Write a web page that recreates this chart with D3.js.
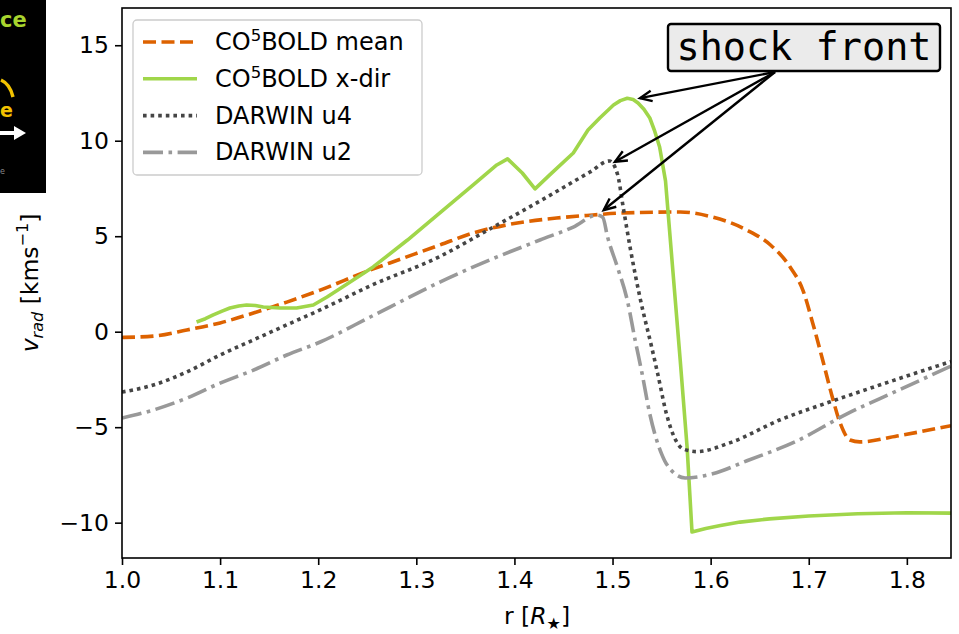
<!DOCTYPE html>
<html>
<head>
<meta charset="utf-8">
<script src="https://cdn.jsdelivr.net/npm/d3@7"></script>
<style>
  html, body { margin: 0; padding: 0; background: #fff; }
  svg { display: block; font-family: "DejaVu Sans", sans-serif; }
</style>
</head>
<body>
<svg id="chart" width="959" height="634"></svg>
<script>
// Radial velocity profiles v_rad(r)
const meanR = [1.000, 1.032, 1.066, 1.100, 1.134, 1.168, 1.202, 1.253, 1.273, 1.324, 1.358, 1.392, 1.443, 1.480, 1.508, 1.569, 1.602, 1.637, 1.661, 1.681, 1.694, 1.704, 1.715, 1.724, 1.732, 1.742, 1.752, 1.790, 1.845];
const meanV = [-0.30, -0.23, 0.09, 0.46, 0.98, 1.55, 2.18, 3.23, 3.60, 4.54, 5.17, 5.59, 5.95, 6.11, 6.21, 6.27, 6.00, 5.32, 4.54, 3.39, 2.18, 0.46, -1.64, -3.42, -4.78, -5.67, -5.77, -5.46, -4.92];

const xdirR = [1.076, 1.085, 1.093, 1.102, 1.110, 1.119, 1.127, 1.136, 1.144, 1.161, 1.178, 1.195, 1.209, 1.222, 1.256, 1.291, 1.324, 1.358, 1.382, 1.393, 1.408, 1.421, 1.436, 1.460, 1.475, 1.487, 1.501, 1.508, 1.515, 1.521, 1.526, 1.532, 1.538, 1.543, 1.548, 1.554, 1.561, 1.569, 1.576, 1.581, 1.595, 1.610, 1.630, 1.660, 1.700, 1.750, 1.800, 1.845];
const xdirV = [0.51, 0.68, 0.88, 1.08, 1.24, 1.35, 1.40, 1.37, 1.29, 1.24, 1.24, 1.40, 1.82, 2.25, 3.39, 4.80, 6.22, 7.69, 8.73, 9.05, 8.31, 7.48, 8.21, 9.36, 10.56, 11.19, 11.87, 12.10, 12.22, 12.16, 11.98, 11.65, 11.19, 10.50, 9.67, 7.90, 3.50, -1.50, -6.04, -10.49, -10.30, -10.15, -9.97, -9.80, -9.65, -9.53, -9.48, -9.50];

const u4R = [1.000, 1.032, 1.066, 1.100, 1.134, 1.168, 1.202, 1.253, 1.324, 1.375, 1.426, 1.477, 1.497, 1.505, 1.511, 1.518, 1.528, 1.540, 1.546, 1.555, 1.572, 1.586, 1.620, 1.671, 1.722, 1.773, 1.845];
const u4V = [-3.16, -2.79, -2.11, -1.22, -0.43, 0.36, 1.14, 2.40, 3.94, 5.38, 6.84, 8.36, 8.94, 8.26, 6.48, 4.39, 1.78, -0.83, -2.19, -4.31, -6.14, -6.28, -5.81, -4.61, -3.67, -2.78, -1.56];

const u2R = [1.000, 1.032, 1.066, 1.100, 1.134, 1.168, 1.202, 1.253, 1.273, 1.324, 1.375, 1.426, 1.460, 1.484, 1.490, 1.495, 1.505, 1.515, 1.523, 1.530, 1.538, 1.550, 1.555, 1.574, 1.602, 1.637, 1.688, 1.739, 1.790, 1.845];
const u2V = [-4.52, -4.10, -3.48, -2.69, -2.01, -1.22, -0.54, 0.77, 1.29, 2.60, 3.76, 4.80, 5.48, 6.10, 5.99, 4.95, 3.38, 1.66, -0.43, -2.16, -4.31, -6.40, -6.93, -7.66, -7.44, -6.76, -5.72, -4.30, -3.10, -1.80];

const seriesNames = ["CO5BOLD mean", "CO5BOLD x-dir", "DARWIN u4", "DARWIN u2"];
const xTicks = [1.0, 1.1, 1.2, 1.3, 1.4, 1.5, 1.6, 1.7, 1.8];
const yTicks = [-10, -5, 0, 5, 10, 15];

// Points marked by the "shock front" callout (r, v)
const shockR = [1.528, 1.5025, 1.491];
const shockV = [12.23, 8.90, 6.37];
const shockLabel = "shock front";

const svg = d3.select("#chart");
const margin = { left: 122, right: 8, top: 8, bottom: 76 };
const W = 959, H = 634;
const x = d3.scaleLinear().domain([1.0, 1.845]).range([margin.left, W - margin.right]);
const y = d3.scaleLinear().domain([-11.85, 16.95]).range([H - margin.bottom, margin.top]);

// Fragment of a neighbouring panel at the top-left edge
const frag = svg.append("g");
frag.append("rect").attr("x", 0).attr("y", 0).attr("width", 46).attr("height", 193).attr("fill", "#000");
frag.append("text").attr("x", 0).attr("y", 27)
  .attr("font-size", 21).attr("font-weight", "bold").attr("fill", "#a8d42e").text("ce");
frag.append("path").attr("d", "M1,80 Q10,84 13,97").attr("fill", "none")
  .attr("stroke", "#f2c200").attr("stroke-width", 3.5);
frag.append("text").attr("x", 0).attr("y", 117)
  .attr("font-size", 19).attr("font-weight", "bold").attr("fill", "#f2c200").text("e");
frag.append("path").attr("d", "M0,133 L16,133").attr("stroke", "#fff").attr("stroke-width", 4);
frag.append("path").attr("d", "M14,126 L26,133 L14,140 Z").attr("fill", "#fff");
frag.append("text").attr("x", 0).attr("y", 174)
  .attr("font-size", 8).attr("fill", "#888").text("e");

// Clip for plotted curves
svg.append("defs").append("clipPath").attr("id", "plotclip")
  .append("rect").attr("x", margin.left).attr("y", margin.top)
  .attr("width", W - margin.left - margin.right).attr("height", H - margin.top - margin.bottom);

const zip = (a, b) => a.map((v, i) => [v, b[i]]);
const smooth = d3.line().x(d => x(d[0])).y(d => y(d[1])).curve(d3.curveMonotoneX);
const straight = d3.line().x(d => x(d[0])).y(d => y(d[1]));

const styles = [
  { data: zip(meanR, meanV), color: "#dd6200", dash: "13,5.5", gen: smooth },
  { data: zip(xdirR, xdirV), color: "#a0d64a", dash: null, gen: straight },
  { data: zip(u4R, u4V), color: "#454545", dash: "3.6,4", gen: smooth },
  { data: zip(u2R, u2V), color: "#999999", dash: "20,5.5,3.6,5.5", gen: smooth }
];

const plot = svg.append("g").attr("clip-path", "url(#plotclip)");
styles.forEach(s => {
  plot.append("path").attr("d", s.gen(s.data)).attr("fill", "none")
    .attr("stroke", s.color).attr("stroke-width", 3.6)
    .attr("stroke-dasharray", s.dash)
    .attr("stroke-linejoin", "round");
});

// Axes
const xAxis = svg.append("g").attr("transform", `translate(0,${H - margin.bottom})`)
  .call(d3.axisBottom(x).tickValues(xTicks).tickFormat(d3.format(".1f")).tickSize(7).tickPadding(6));
const yAxis = svg.append("g").attr("transform", `translate(${margin.left},0)`)
  .call(d3.axisLeft(y).tickValues(yTicks).tickFormat(d => d < 0 ? "\u2212" + Math.abs(d) : d).tickSize(7).tickPadding(6));
[xAxis, yAxis].forEach(a => {
  a.select(".domain").remove();
  a.selectAll(".tick line").attr("stroke", "#000").attr("stroke-width", 1.6);
  a.selectAll(".tick text").attr("font-size", 23.5).attr("font-family", "DejaVu Sans").attr("fill", "#000");
});

// Frame
svg.append("rect").attr("x", margin.left).attr("y", margin.top)
  .attr("width", W - margin.left - margin.right).attr("height", H - margin.top - margin.bottom)
  .attr("fill", "none").attr("stroke", "#000").attr("stroke-width", 1.6);

// Axis labels
const xl = svg.append("text").attr("x", 537).attr("y", 624).attr("text-anchor", "middle")
  .attr("font-size", 23.5).attr("fill", "#000");
xl.append("tspan").text("r [");
xl.append("tspan").attr("font-style", "italic").text("R");
xl.append("tspan").attr("font-size", 16).attr("dy", 5).text("\u2605");
xl.append("tspan").attr("dy", -5).text("]");

const yl = svg.append("text").attr("transform", "translate(38,283) rotate(-90)")
  .attr("text-anchor", "middle").attr("font-size", 23.5).attr("fill", "#000");
yl.append("tspan").attr("font-style", "italic").text("v");
yl.append("tspan").attr("font-style", "italic").attr("font-size", 16).attr("dy", 5).text("rad");
yl.append("tspan").attr("dy", -5).text(" [kms");
yl.append("tspan").attr("font-size", 16).attr("dy", -10).text("\u22121");
yl.append("tspan").attr("dy", 10).text("]");

// Legend
const lg = svg.append("g");
lg.append("rect").attr("x", 133).attr("y", 20).attr("width", 289).attr("height", 155)
  .attr("rx", 4).attr("fill", "#fff").attr("fill-opacity", 0.8)
  .attr("stroke", "#cccccc").attr("stroke-width", 1.3);
styles.forEach((s, i) => {
  const yy = 42 + i * 36.8;
  lg.append("line").attr("x1", 143).attr("x2", 197).attr("y1", yy).attr("y2", yy)
    .attr("stroke", s.color).attr("stroke-width", 3.6).attr("stroke-dasharray", s.dash);
  const t = lg.append("text").attr("x", 215).attr("y", yy + 8).attr("font-size", 24).attr("fill", "#000");
  const name = seriesNames[i];
  if (name.startsWith("CO5")) {
    t.append("tspan").text("CO");
    t.append("tspan").attr("font-size", 16.5).attr("dy", -9).text("5");
    t.append("tspan").attr("dy", 9).text(name.slice(3));
  } else {
    t.text(name);
  }
});

// Shock front callout
const ox = 775, oy = 72;
const ann = svg.append("g");
shockR.forEach((r, i) => {
  const tx = x(r), ty = y(shockV[i]);
  const ang = Math.atan2(ty - oy, tx - ox);
  const hl = 13, hw = 0.42;
  ann.append("line").attr("x1", ox).attr("y1", oy).attr("x2", tx).attr("y2", ty)
    .attr("stroke", "#000").attr("stroke-width", 2.4);
  const p1 = [tx - hl * Math.cos(ang - hw), ty - hl * Math.sin(ang - hw)];
  const p2 = [tx - hl * Math.cos(ang + hw), ty - hl * Math.sin(ang + hw)];
  ann.append("path").attr("d", `M${p1[0]},${p1[1]} L${tx},${ty} L${p2[0]},${p2[1]}`)
    .attr("fill", "none").attr("stroke", "#000").attr("stroke-width", 2.4)
    .attr("stroke-linejoin", "miter");
});
ann.append("rect").attr("x", 668).attr("y", 24).attr("width", 272).attr("height", 47)
  .attr("rx", 3).attr("fill", "#ebebeb").attr("stroke", "#000").attr("stroke-width", 2.4);
ann.append("text").attr("x", 804).attr("y", 60).attr("text-anchor", "middle")
  .attr("font-family", "DejaVu Sans Mono, monospace").attr("font-size", 38.5).attr("fill", "#000")
  .text(shockLabel);
</script>
</body>
</html>
